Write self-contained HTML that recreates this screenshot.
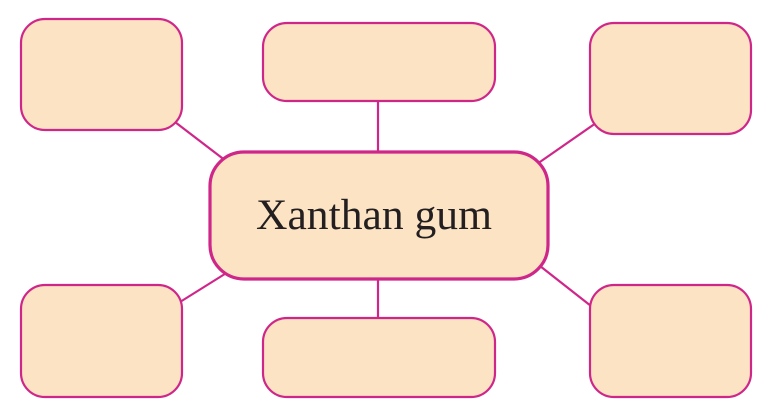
<!DOCTYPE html>
<html><head><meta charset="utf-8"><style>html,body{margin:0;padding:0;background:#fff;}svg{display:block}</style></head>
<body>
<svg width="768" height="415" viewBox="0 0 768 415" xmlns="http://www.w3.org/2000/svg">
<g stroke="#cf2689" stroke-width="2.2" fill="none">
<line x1="175" y1="122" x2="226" y2="161"/>
<line x1="596" y1="123" x2="537" y2="164"/>
<line x1="180" y1="302" x2="228" y2="272"/>
<line x1="540" y1="266" x2="591" y2="306"/>
<line x1="378" y1="100" x2="378" y2="153"/>
<line x1="378" y1="278" x2="378" y2="319"/>
</g>
<g fill="#fce3c4" stroke="#cf2689" stroke-width="2.2">
<rect x="21" y="19" width="161" height="111" rx="24"/>
<rect x="263" y="23" width="232" height="78" rx="24"/>
<rect x="590" y="23" width="161" height="111" rx="24"/>
<rect x="21" y="285" width="161" height="112" rx="24"/>
<rect x="263" y="318" width="232" height="79" rx="24"/>
<rect x="590" y="285" width="161" height="112" rx="24"/>
<rect x="210" y="152" width="338" height="127" rx="34" stroke-width="3.2"/>
</g>
<text x="256" y="229" textLength="236" lengthAdjust="spacingAndGlyphs" font-family="Liberation Serif, serif" font-size="43" fill="#231f20">Xanthan gum</text>
</svg>
</body></html>
